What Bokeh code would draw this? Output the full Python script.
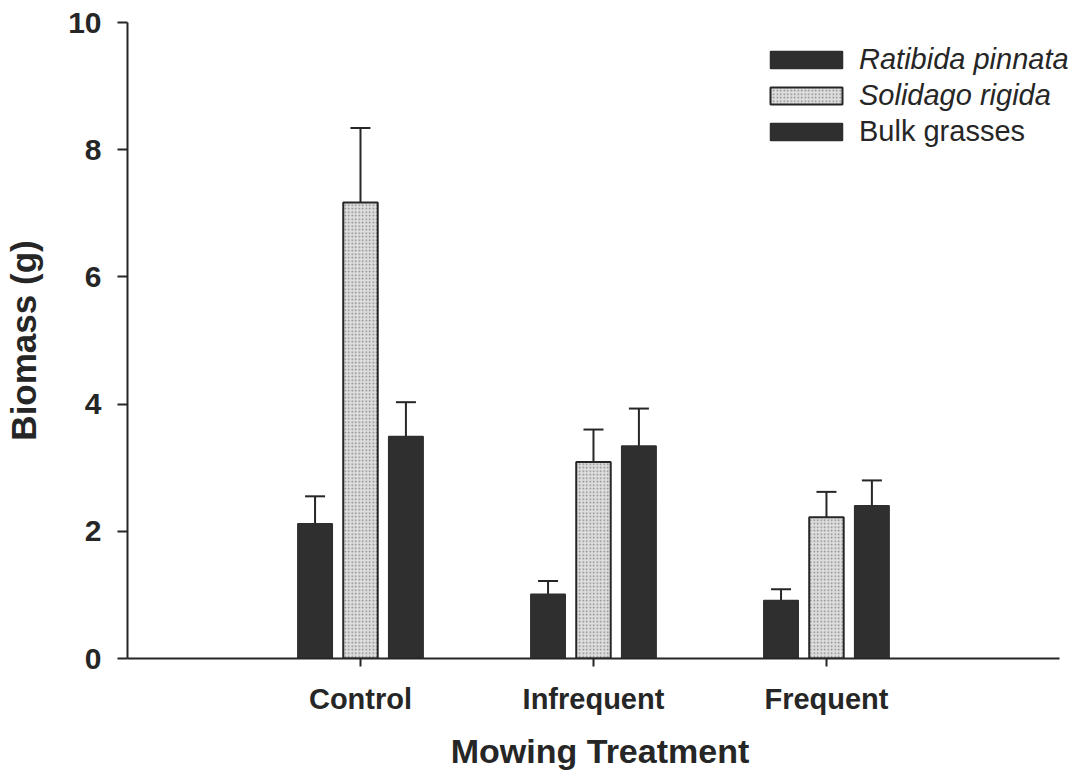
import numpy as np
from bokeh.plotting import figure
from bokeh.models import (ColumnDataSource, Range1d, FixedTicker, Whisker, TeeHead,
                          Legend, LegendItem)
from bokeh.embed import file_html
from bokeh.resources import INLINE

# ---- data ----
categories = ["Control", "Infrequent", "Frequent"]
series = ["Ratibida pinnata", "Solidago rigida", "Bulk grasses"]

ratibida = [2.12, 1.01, 0.91]
ratibida_err = [0.43, 0.21, 0.18]

solidago = [7.17, 3.09, 2.22]
solidago_err_up = [1.17, 0.51, 0.40]
solidago_err_dn = [1.00, 0.45, 0.31]

bulk = [3.49, 3.34, 2.40]
bulk_err = [0.54, 0.59, 0.40]

y_ticks = [0, 2, 4, 6, 8, 10]

# ---- styling ----
FONT = "Liberation Sans"
DARK = "#2f2f2f"
INK = "#262626"
LIGHT = "#dedede"
offset = 0.195
bar_w = 0.148

idx = np.arange(1, len(categories) + 1)

p = figure(width=1072, height=772, output_backend="svg", toolbar_location=None,
           x_range=Range1d(0, 4.056), y_range=Range1d(0, 10),
           min_border_left=127, min_border_right=0, min_border_top=22,
           min_border_bottom=114)
p.outline_line_color = None
p.xgrid.visible = False
p.ygrid.visible = False
p.background_fill_color = "white"
p.border_fill_color = "white"

def make_src(vals, lo, hi, off):
    return ColumnDataSource(dict(x=idx + off, top=vals, lower=lo, upper=hi))

r_src = make_src(ratibida, ratibida, [v + e for v, e in zip(ratibida, ratibida_err)], -offset)
s_src = make_src(solidago, [v - e for v, e in zip(solidago, solidago_err_dn)],
                 [v + e for v, e in zip(solidago, solidago_err_up)], 0.0)
b_src = make_src(bulk, bulk, [v + e for v, e in zip(bulk, bulk_err)], offset)

r_bar = p.vbar(x="x", top="top", width=bar_w, source=r_src, fill_color=DARK,
               line_color=DARK, line_width=1.5)
s_bar = p.vbar(x="x", top="top", width=bar_w, source=s_src, fill_color=LIGHT,
               line_color=INK, line_width=2, hatch_pattern="dot",
               hatch_color="#858585", hatch_scale=3.5, hatch_weight=1.2)
b_bar = p.vbar(x="x", top="top", width=bar_w, source=b_src, fill_color=DARK,
               line_color=DARK, line_width=1.5)

for src, both in ((r_src, False), (s_src, True), (b_src, False)):
    w = Whisker(base="x", lower="lower", upper="upper", source=src, dimension="height",
                line_color=INK, line_width=2,
                upper_head=TeeHead(size=20, line_color=INK, line_width=2),
                lower_head=TeeHead(size=20, line_color=INK, line_width=2) if both else None)
    p.add_layout(w)

# ---- axes ----
xa = p.xaxis[0]
xa.ticker = FixedTicker(ticks=list(idx))
xa.bounds = (0, len(categories) + 1)
xa.major_label_overrides = {int(i): c for i, c in zip(idx, categories)}
xa.minor_tick_line_color = None
xa.major_tick_in = 0
xa.major_tick_out = 8
xa.major_tick_line_width = 2
xa.major_tick_line_color = INK
xa.axis_line_width = 2
xa.axis_line_color = INK
xa.major_label_standoff = 16
xa.major_label_text_font = FONT
xa.major_label_text_font_style = "bold"
xa.major_label_text_font_size = "29px"
xa.major_label_text_color = INK
xa.axis_label = "Mowing Treatment"
xa.axis_label_text_font = FONT
xa.axis_label_text_font_style = "bold"
xa.axis_label_text_font_size = "34px"
xa.axis_label_text_color = INK
xa.axis_label_standoff = 14

ya = p.yaxis[0]
ya.ticker = FixedTicker(ticks=y_ticks)
ya.minor_tick_line_color = None
ya.major_tick_in = 0
ya.major_tick_out = 10
ya.major_tick_line_width = 2
ya.major_tick_line_color = INK
ya.axis_line_width = 2
ya.axis_line_color = INK
ya.major_label_standoff = 16
ya.major_label_text_font = FONT
ya.major_label_text_font_style = "bold"
ya.major_label_text_font_size = "30px"
ya.major_label_text_color = INK
ya.axis_label = "Biomass (g)"
ya.axis_label_text_font = FONT
ya.axis_label_text_font_style = "bold"
ya.axis_label_text_font_size = "35px"
ya.axis_label_text_color = INK
ya.axis_label_standoff = 22

# ---- legend (two stacked: italic species names, then normal) ----
def style_legend(lg, italic):
    lg.border_line_color = None
    lg.background_fill_alpha = 0
    lg.padding = 0
    lg.margin = 0
    lg.spacing = 0
    lg.glyph_width = 90
    lg.glyph_height = 21
    lg.label_height = 36
    lg.label_standoff = 8
    lg.label_text_font = FONT
    lg.label_text_font_size = "29px"
    lg.label_text_color = INK
    lg.label_text_font_style = "italic" if italic else "normal"

leg1 = Legend(items=[LegendItem(label=series[0], renderers=[r_bar]),
                     LegendItem(label=series[1], renderers=[s_bar])],
              location=(634, 545))
style_legend(leg1, True)
leg2 = Legend(items=[LegendItem(label=series[2], renderers=[b_bar])],
              location=(634, 509))
style_legend(leg2, False)
p.add_layout(leg1)
p.add_layout(leg2)

open("out.html", "w").write(file_html(p, INLINE))
